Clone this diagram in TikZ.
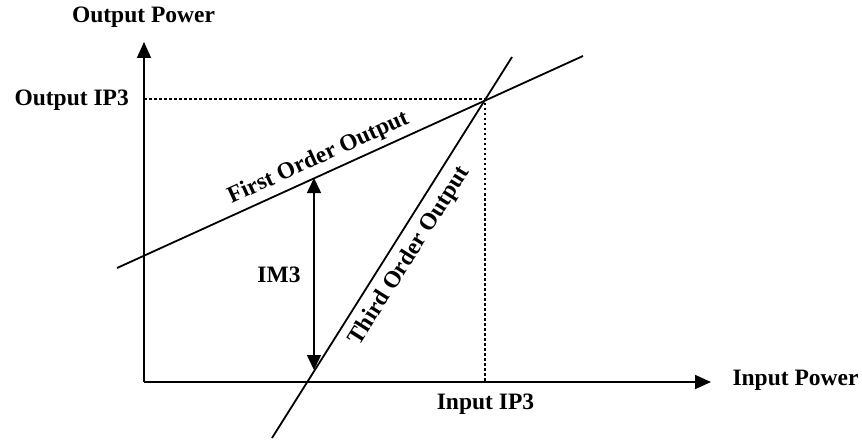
\documentclass[tikz,border=0pt]{standalone}
\usepackage{fontspec}
\setmainfont{Liberation Serif}
\usetikzlibrary{arrows.meta}
\begin{document}
\begin{tikzpicture}[x=1pt,y=-1pt,
  lbl/.style={font=\fontsize{23.5}{28}\selectfont\bfseries, inner sep=0pt},
  axisline/.style={line width=1.8pt, -{Triangle[length=16pt,width=14pt]}},
  curve/.style={line width=1.8pt},
  guide/.style={line width=1.8pt, dash pattern=on 2.5pt off 2.5pt},
  dimarrow/.style={line width=1.6pt, {Triangle[length=15pt,width=14pt]}-{Triangle[length=15pt,width=14pt]}}]
  \useasboundingbox (0,0) rectangle (862,441);

  % key points
  \coordinate (O) at (144,382);
  \coordinate (yTop) at (144,42);
  \coordinate (xEnd) at (711,382);
  \coordinate (P) at (485,99);
  \coordinate (yIP) at (144,99);
  \coordinate (xIP) at (485,382);
  \coordinate (F1) at (117,268);
  \coordinate (F2) at (583,56);
  \coordinate (T1) at (272,438);
  \coordinate (T2) at (512,57);
  \coordinate (A) at (314,178);
  \coordinate (B) at (314,370);

  % axes
  \draw[axisline] (O) -- (yTop);
  \draw[axisline] (O) -- (xEnd);

  % intercept guides
  \draw[guide] (yIP) -- (P) -- (xIP);
  \draw[guide] (yIP) -- (O) -- (xIP);

  % first and third order responses
  \draw[curve] (F1) -- (F2)
    node[lbl, pos=0.447, sloped, above=5pt] (fo) {First Order Output};
  \draw[curve] (T1) -- (T2)
    node[lbl, pos=0.505, sloped, below=8pt] (to) {Third Order Output};

  % IM3 spacing
  \draw[dimarrow] (A) -- (B);

  % labels
  \node[lbl] (ylab) at (143.5,17) {Output Power};
  \node[lbl] (xlab) at (795.5,380) {Input Power};
  \node[lbl, anchor=east] (oip) at (129,100) {Output IP3};
  \node[lbl] (iip) at (485.5,404) {Input IP3};
  \node[lbl] (im3) at (279,275) {IM3};
\end{tikzpicture}
\end{document}
